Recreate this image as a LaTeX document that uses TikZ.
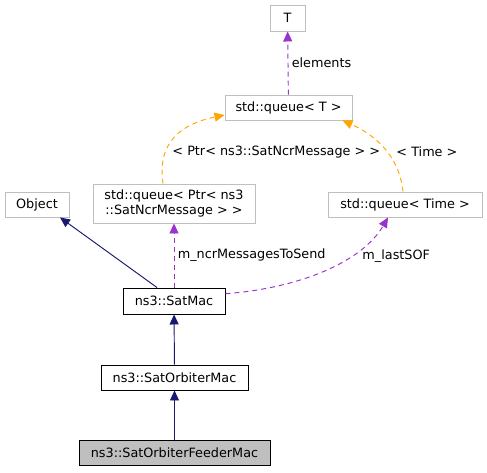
\documentclass[tikz,border=0pt]{standalone}
\usepackage{fontspec}
\setmainfont{DejaVu Sans}
\usetikzlibrary{arrows.meta}
\definecolor{boxgrey}{rgb}{0.75,0.75,0.75}
\definecolor{feedgrey}{rgb}{0.75,0.75,0.75}
\definecolor{navyline}{rgb}{0.1,0.1,0.44}
\definecolor{usepurple}{rgb}{0.6,0.2,0.8}
\definecolor{tplorange}{rgb}{1,0.65,0}

\begin{document}
\begin{tikzpicture}[x=1pt, y=-1pt, line width=0.95pt, font=\fontsize{12.8}{15}\selectfont,
	cls/.style={draw=boxgrey, inner sep=0pt, align=center},
	cur/.style={draw=black, inner sep=0pt},
	lbl/.style={anchor=west, inner sep=0pt, text=black},
	inh/.style={color=navyline, -{Triangle[length=10pt,width=9pt]}},
	use/.style={color=usepurple, dash pattern=on 5pt off 4pt, -{Triangle[length=10pt,width=9pt]}},
	tpl/.style={color=tplorange, dash pattern=on 5pt off 4pt, -{Triangle[length=10pt,width=9pt]}}]
	\useasboundingbox (0,0) rectangle (487,472);

	\node[cls, minimum width=35pt, minimum height=26pt] (t) at (287.5,18) {T};
	\node[cls, minimum width=127pt, minimum height=25pt] (queuet) at (288.5,107.5) {std::queue< T >};
	\node[cls, minimum width=64pt, minimum height=25pt] (obj) at (37,204.5) {Object};
	\node[cls, minimum width=162pt, minimum height=39pt] (ncrq) at (174,203.5) {std::queue< Ptr< ns3\\::SatNcrMessage > >};
	\node[cls, minimum width=154pt, minimum height=25pt] (timeq) at (405,204.5) {std::queue< Time >};
	\node[cur, minimum width=102pt, minimum height=26pt] (mac) at (174,301) {ns3::SatMac};
	\node[cur, minimum width=147pt, minimum height=25pt] (orb) at (174.5,377.5) {ns3::SatOrbiterMac};
	\node[cur, fill=feedgrey, minimum width=191pt, minimum height=25pt] (feed) at (174.5,452.5) {ns3::SatOrbiterFeederMac};

	% members and templates
	\draw[use] (queuet) edge node[right, text=black]{elements} (t);
	\draw[use] (mac) edge node[right, text=black]{m\_ncrMessagesToSend} (ncrq);
	\draw[use] (mac.8) .. controls (300,288) and (362,262) .. ([xshift=-17pt]timeq.south);
	\node[lbl] (lastsof) at (362,256) {m\_lastSOF};
	\draw[tpl] ([xshift=-11pt]ncrq.north) .. controls (158,150) and (172,126) .. ([yshift=-7.5pt]queuet.west);
	\node[lbl] (ptrlbl) at (172,152) {< Ptr< ns3::SatNcrMessage > >};
	\draw[tpl] ([xshift=-2pt]timeq.north) .. controls (400,162) and (382,138) .. ([xshift=-10pt]queuet.south east);
	\node[lbl] (timelbl) at (396,152) {< Time >};

	% inheritance
	\draw[inh] ([xshift=-17pt]mac.north) -- ([xshift=23pt]obj.south);
	\draw[inh] (orb) edge (mac);
	\draw[inh] (feed) edge (orb);
\end{tikzpicture}
\end{document}
